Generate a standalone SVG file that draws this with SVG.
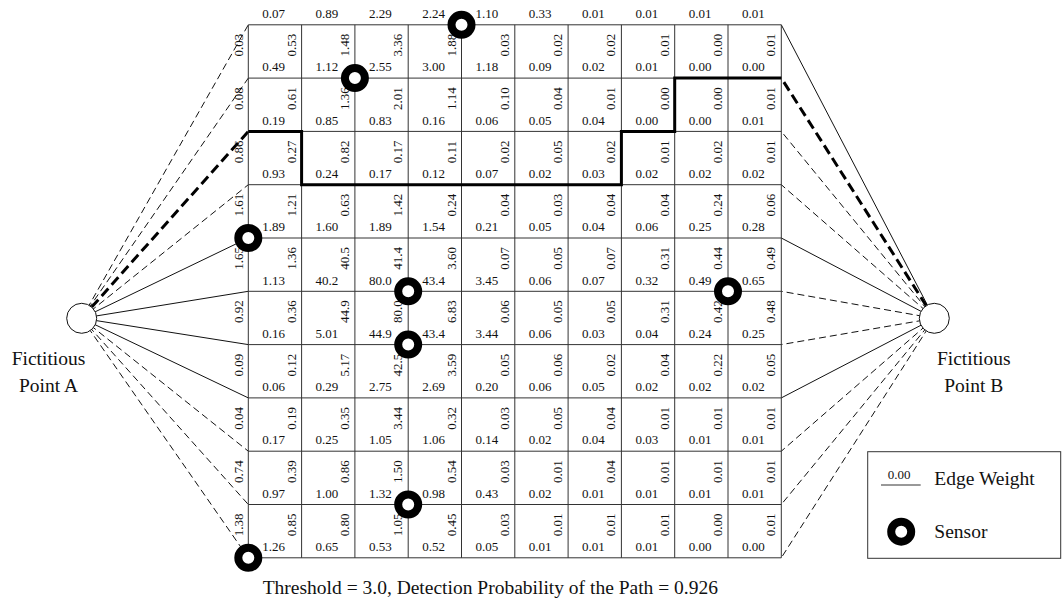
<svg xmlns="http://www.w3.org/2000/svg" width="1062" height="602" viewBox="0 0 1062 602">
<style>
text{font-family:"Liberation Serif","Times New Roman",serif;fill:#111}
.n{font-size:13px}
.lb{font-size:19.5px}
.grid{stroke:#333;stroke-width:1;fill:none}
.thin{stroke:#111;stroke-width:1;fill:none}
.dash{stroke:#111;stroke-width:1;fill:none;stroke-dasharray:7 4}
.thick{stroke:#000;stroke-width:3;fill:none;stroke-dasharray:10 5}
.path{stroke:#000;stroke-width:3;fill:none}
.sensor{fill:#fff;stroke:#000;stroke-width:8}
.pt{fill:#fff;stroke:#111;stroke-width:1}
</style>
<rect width="1062" height="602" fill="#fff"/>
<g id="connectors">
<line class="dash" x1="81.7" y1="318.3" x2="248.3" y2="24.8"/>
<line class="dash" x1="81.7" y1="318.3" x2="248.3" y2="78.1"/>
<line class="thick" x1="81.7" y1="318.3" x2="248.3" y2="131.4"/>
<line class="dash" x1="81.7" y1="318.3" x2="248.3" y2="184.7"/>
<line class="thin" x1="81.7" y1="318.3" x2="248.3" y2="238.0"/>
<line class="thin" x1="81.7" y1="318.3" x2="248.3" y2="291.3"/>
<line class="thin" x1="81.7" y1="318.3" x2="248.3" y2="344.6"/>
<line class="thin" x1="81.7" y1="318.3" x2="248.3" y2="397.9"/>
<line class="dash" x1="81.7" y1="318.3" x2="248.3" y2="451.2"/>
<line class="dash" x1="81.7" y1="318.3" x2="248.3" y2="504.5"/>
<line class="dash" x1="81.7" y1="318.3" x2="248.3" y2="557.8"/>
<line class="thin" x1="934.3" y1="318.3" x2="781.3" y2="24.8"/>
<line class="thick" x1="934.3" y1="318.3" x2="781.3" y2="78.1"/>
<line class="dash" x1="934.3" y1="318.3" x2="781.3" y2="131.4"/>
<line class="dash" x1="934.3" y1="318.3" x2="781.3" y2="184.7"/>
<line class="thin" x1="934.3" y1="318.3" x2="781.3" y2="238.0"/>
<line class="dash" x1="934.3" y1="318.3" x2="781.3" y2="291.3"/>
<line class="dash" x1="934.3" y1="318.3" x2="781.3" y2="344.6"/>
<line class="thin" x1="934.3" y1="318.3" x2="781.3" y2="397.9"/>
<line class="dash" x1="934.3" y1="318.3" x2="781.3" y2="451.2"/>
<line class="dash" x1="934.3" y1="318.3" x2="781.3" y2="504.5"/>
<line class="dash" x1="934.3" y1="318.3" x2="781.3" y2="557.8"/>
</g>
<g id="grid">
<path class="grid" d="M248.3,24.8V557.8M301.6,24.8V557.8M354.9,24.8V557.8M408.2,24.8V557.8M461.5,24.8V557.8M514.8,24.8V557.8M568.1,24.8V557.8M621.4,24.8V557.8M674.7,24.8V557.8M728,24.8V557.8M781.3,24.8V557.8M248.3,24.8H781.3M248.3,78.1H781.3M248.3,131.4H781.3M248.3,184.7H781.3M248.3,238H781.3M248.3,291.3H781.3M248.3,344.6H781.3M248.3,397.9H781.3M248.3,451.2H781.3M248.3,504.5H781.3M248.3,557.8H781.3"/>
<path id="best-path" class="path" d="M248.3,131.4H301.6V184.7H621.4V131.4H674.7V78.1H781.3"/>
</g>
<g id="weights" class="n">
<text x="262.3" y="18">0.07</text><text x="315.6" y="18">0.89</text><text x="368.9" y="18">2.29</text><text x="422.2" y="18">2.24</text><text x="475.5" y="18">1.10</text><text x="528.8" y="18">0.33</text><text x="582.1" y="18">0.01</text><text x="635.4" y="18">0.01</text><text x="688.7" y="18">0.01</text><text x="742" y="18">0.01</text>
<text transform="translate(243.3 56.6) rotate(-90)">0.03</text>
<text transform="translate(243.3 109.9) rotate(-90)">0.08</text>
<text transform="translate(243.3 163.2) rotate(-90)">0.86</text>
<text transform="translate(243.3 216.5) rotate(-90)">1.61</text>
<text transform="translate(243.3 269.8) rotate(-90)">1.65</text>
<text transform="translate(243.3 323.1) rotate(-90)">0.92</text>
<text transform="translate(243.3 376.4) rotate(-90)">0.09</text>
<text transform="translate(243.3 429.7) rotate(-90)">0.04</text>
<text transform="translate(243.3 483) rotate(-90)">0.74</text>
<text transform="translate(243.3 536.3) rotate(-90)">1.38</text>
<g id="row0">
<text x="262.3" y="71.3">0.49</text><text x="315.6" y="71.3">1.12</text><text x="368.9" y="71.3">2.55</text><text x="422.2" y="71.3">3.00</text><text x="475.5" y="71.3">1.18</text><text x="528.8" y="71.3">0.09</text><text x="582.1" y="71.3">0.02</text><text x="635.4" y="71.3">0.01</text><text x="688.7" y="71.3">0.00</text><text x="742" y="71.3">0.00</text>
<text transform="translate(295.6 56.6) rotate(-90)">0.53</text><text transform="translate(348.9 56.6) rotate(-90)">1.48</text><text transform="translate(402.2 56.6) rotate(-90)">3.36</text><text transform="translate(455.5 56.6) rotate(-90)">1.88</text><text transform="translate(508.8 56.6) rotate(-90)">0.03</text><text transform="translate(562.1 56.6) rotate(-90)">0.02</text><text transform="translate(615.4 56.6) rotate(-90)">0.02</text><text transform="translate(668.7 56.6) rotate(-90)">0.01</text><text transform="translate(722 56.6) rotate(-90)">0.00</text><text transform="translate(775.3 56.6) rotate(-90)">0.01</text>
</g>
<g id="row1">
<text x="262.3" y="124.6">0.19</text><text x="315.6" y="124.6">0.85</text><text x="368.9" y="124.6">0.83</text><text x="422.2" y="124.6">0.16</text><text x="475.5" y="124.6">0.06</text><text x="528.8" y="124.6">0.05</text><text x="582.1" y="124.6">0.04</text><text x="635.4" y="124.6">0.00</text><text x="688.7" y="124.6">0.00</text><text x="742" y="124.6">0.01</text>
<text transform="translate(295.6 109.9) rotate(-90)">0.61</text><text transform="translate(348.9 109.9) rotate(-90)">1.36</text><text transform="translate(402.2 109.9) rotate(-90)">2.01</text><text transform="translate(455.5 109.9) rotate(-90)">1.14</text><text transform="translate(508.8 109.9) rotate(-90)">0.10</text><text transform="translate(562.1 109.9) rotate(-90)">0.04</text><text transform="translate(615.4 109.9) rotate(-90)">0.01</text><text transform="translate(668.7 109.9) rotate(-90)">0.00</text><text transform="translate(722 109.9) rotate(-90)">0.00</text><text transform="translate(775.3 109.9) rotate(-90)">0.01</text>
</g>
<g id="row2">
<text x="262.3" y="177.9">0.93</text><text x="315.6" y="177.9">0.24</text><text x="368.9" y="177.9">0.17</text><text x="422.2" y="177.9">0.12</text><text x="475.5" y="177.9">0.07</text><text x="528.8" y="177.9">0.02</text><text x="582.1" y="177.9">0.03</text><text x="635.4" y="177.9">0.02</text><text x="688.7" y="177.9">0.02</text><text x="742" y="177.9">0.02</text>
<text transform="translate(295.6 163.2) rotate(-90)">0.27</text><text transform="translate(348.9 163.2) rotate(-90)">0.82</text><text transform="translate(402.2 163.2) rotate(-90)">0.17</text><text transform="translate(455.5 163.2) rotate(-90)">0.11</text><text transform="translate(508.8 163.2) rotate(-90)">0.02</text><text transform="translate(562.1 163.2) rotate(-90)">0.05</text><text transform="translate(615.4 163.2) rotate(-90)">0.02</text><text transform="translate(668.7 163.2) rotate(-90)">0.01</text><text transform="translate(722 163.2) rotate(-90)">0.02</text><text transform="translate(775.3 163.2) rotate(-90)">0.01</text>
</g>
<g id="row3">
<text x="262.3" y="231.2">1.89</text><text x="315.6" y="231.2">1.60</text><text x="368.9" y="231.2">1.89</text><text x="422.2" y="231.2">1.54</text><text x="475.5" y="231.2">0.21</text><text x="528.8" y="231.2">0.05</text><text x="582.1" y="231.2">0.04</text><text x="635.4" y="231.2">0.06</text><text x="688.7" y="231.2">0.25</text><text x="742" y="231.2">0.28</text>
<text transform="translate(295.6 216.5) rotate(-90)">1.21</text><text transform="translate(348.9 216.5) rotate(-90)">0.63</text><text transform="translate(402.2 216.5) rotate(-90)">1.42</text><text transform="translate(455.5 216.5) rotate(-90)">0.24</text><text transform="translate(508.8 216.5) rotate(-90)">0.04</text><text transform="translate(562.1 216.5) rotate(-90)">0.03</text><text transform="translate(615.4 216.5) rotate(-90)">0.04</text><text transform="translate(668.7 216.5) rotate(-90)">0.04</text><text transform="translate(722 216.5) rotate(-90)">0.24</text><text transform="translate(775.3 216.5) rotate(-90)">0.06</text>
</g>
<g id="row4">
<text x="262.3" y="284.5">1.13</text><text x="315.6" y="284.5">40.2</text><text x="368.9" y="284.5">80.0</text><text x="422.2" y="284.5">43.4</text><text x="475.5" y="284.5">3.45</text><text x="528.8" y="284.5">0.06</text><text x="582.1" y="284.5">0.07</text><text x="635.4" y="284.5">0.32</text><text x="688.7" y="284.5">0.49</text><text x="742" y="284.5">0.65</text>
<text transform="translate(295.6 269.8) rotate(-90)">1.36</text><text transform="translate(348.9 269.8) rotate(-90)">40.5</text><text transform="translate(402.2 269.8) rotate(-90)">41.4</text><text transform="translate(455.5 269.8) rotate(-90)">3.60</text><text transform="translate(508.8 269.8) rotate(-90)">0.07</text><text transform="translate(562.1 269.8) rotate(-90)">0.05</text><text transform="translate(615.4 269.8) rotate(-90)">0.07</text><text transform="translate(668.7 269.8) rotate(-90)">0.31</text><text transform="translate(722 269.8) rotate(-90)">0.44</text><text transform="translate(775.3 269.8) rotate(-90)">0.49</text>
</g>
<g id="row5">
<text x="262.3" y="337.8">0.16</text><text x="315.6" y="337.8">5.01</text><text x="368.9" y="337.8">44.9</text><text x="422.2" y="337.8">43.4</text><text x="475.5" y="337.8">3.44</text><text x="528.8" y="337.8">0.06</text><text x="582.1" y="337.8">0.03</text><text x="635.4" y="337.8">0.04</text><text x="688.7" y="337.8">0.24</text><text x="742" y="337.8">0.25</text>
<text transform="translate(295.6 323.1) rotate(-90)">0.36</text><text transform="translate(348.9 323.1) rotate(-90)">44.9</text><text transform="translate(402.2 323.1) rotate(-90)">80.0</text><text transform="translate(455.5 323.1) rotate(-90)">6.83</text><text transform="translate(508.8 323.1) rotate(-90)">0.06</text><text transform="translate(562.1 323.1) rotate(-90)">0.05</text><text transform="translate(615.4 323.1) rotate(-90)">0.05</text><text transform="translate(668.7 323.1) rotate(-90)">0.31</text><text transform="translate(722 323.1) rotate(-90)">0.42</text><text transform="translate(775.3 323.1) rotate(-90)">0.48</text>
</g>
<g id="row6">
<text x="262.3" y="391.1">0.06</text><text x="315.6" y="391.1">0.29</text><text x="368.9" y="391.1">2.75</text><text x="422.2" y="391.1">2.69</text><text x="475.5" y="391.1">0.20</text><text x="528.8" y="391.1">0.06</text><text x="582.1" y="391.1">0.05</text><text x="635.4" y="391.1">0.02</text><text x="688.7" y="391.1">0.02</text><text x="742" y="391.1">0.02</text>
<text transform="translate(295.6 376.4) rotate(-90)">0.12</text><text transform="translate(348.9 376.4) rotate(-90)">5.17</text><text transform="translate(402.2 376.4) rotate(-90)">42.5</text><text transform="translate(455.5 376.4) rotate(-90)">3.59</text><text transform="translate(508.8 376.4) rotate(-90)">0.05</text><text transform="translate(562.1 376.4) rotate(-90)">0.06</text><text transform="translate(615.4 376.4) rotate(-90)">0.02</text><text transform="translate(668.7 376.4) rotate(-90)">0.04</text><text transform="translate(722 376.4) rotate(-90)">0.22</text><text transform="translate(775.3 376.4) rotate(-90)">0.05</text>
</g>
<g id="row7">
<text x="262.3" y="444.4">0.17</text><text x="315.6" y="444.4">0.25</text><text x="368.9" y="444.4">1.05</text><text x="422.2" y="444.4">1.06</text><text x="475.5" y="444.4">0.14</text><text x="528.8" y="444.4">0.02</text><text x="582.1" y="444.4">0.04</text><text x="635.4" y="444.4">0.03</text><text x="688.7" y="444.4">0.01</text><text x="742" y="444.4">0.01</text>
<text transform="translate(295.6 429.7) rotate(-90)">0.19</text><text transform="translate(348.9 429.7) rotate(-90)">0.35</text><text transform="translate(402.2 429.7) rotate(-90)">3.44</text><text transform="translate(455.5 429.7) rotate(-90)">0.32</text><text transform="translate(508.8 429.7) rotate(-90)">0.03</text><text transform="translate(562.1 429.7) rotate(-90)">0.05</text><text transform="translate(615.4 429.7) rotate(-90)">0.04</text><text transform="translate(668.7 429.7) rotate(-90)">0.01</text><text transform="translate(722 429.7) rotate(-90)">0.01</text><text transform="translate(775.3 429.7) rotate(-90)">0.01</text>
</g>
<g id="row8">
<text x="262.3" y="497.7">0.97</text><text x="315.6" y="497.7">1.00</text><text x="368.9" y="497.7">1.32</text><text x="422.2" y="497.7">0.98</text><text x="475.5" y="497.7">0.43</text><text x="528.8" y="497.7">0.02</text><text x="582.1" y="497.7">0.01</text><text x="635.4" y="497.7">0.01</text><text x="688.7" y="497.7">0.01</text><text x="742" y="497.7">0.01</text>
<text transform="translate(295.6 483) rotate(-90)">0.39</text><text transform="translate(348.9 483) rotate(-90)">0.86</text><text transform="translate(402.2 483) rotate(-90)">1.50</text><text transform="translate(455.5 483) rotate(-90)">0.54</text><text transform="translate(508.8 483) rotate(-90)">0.03</text><text transform="translate(562.1 483) rotate(-90)">0.01</text><text transform="translate(615.4 483) rotate(-90)">0.04</text><text transform="translate(668.7 483) rotate(-90)">0.01</text><text transform="translate(722 483) rotate(-90)">0.01</text><text transform="translate(775.3 483) rotate(-90)">0.01</text>
</g>
<g id="row9">
<text x="262.3" y="551">1.26</text><text x="315.6" y="551">0.65</text><text x="368.9" y="551">0.53</text><text x="422.2" y="551">0.52</text><text x="475.5" y="551">0.05</text><text x="528.8" y="551">0.01</text><text x="582.1" y="551">0.01</text><text x="635.4" y="551">0.01</text><text x="688.7" y="551">0.00</text><text x="742" y="551">0.00</text>
<text transform="translate(295.6 536.3) rotate(-90)">0.85</text><text transform="translate(348.9 536.3) rotate(-90)">0.80</text><text transform="translate(402.2 536.3) rotate(-90)">1.05</text><text transform="translate(455.5 536.3) rotate(-90)">0.45</text><text transform="translate(508.8 536.3) rotate(-90)">0.03</text><text transform="translate(562.1 536.3) rotate(-90)">0.01</text><text transform="translate(615.4 536.3) rotate(-90)">0.01</text><text transform="translate(668.7 536.3) rotate(-90)">0.01</text><text transform="translate(722 536.3) rotate(-90)">0.00</text><text transform="translate(775.3 536.3) rotate(-90)">0.01</text>
</g>
</g>
<g id="sensors">
<circle id="sensor1" class="sensor" cx="461.5" cy="24.8" r="10"/>
<circle id="sensor2" class="sensor" cx="354.9" cy="78.1" r="10"/>
<circle id="sensor3" class="sensor" cx="248.3" cy="238" r="10"/>
<circle id="sensor4" class="sensor" cx="408.2" cy="291.3" r="10"/>
<circle id="sensor5" class="sensor" cx="408.2" cy="344.6" r="10"/>
<circle id="sensor6" class="sensor" cx="728" cy="291.3" r="10"/>
<circle id="sensor7" class="sensor" cx="408.2" cy="504.5" r="10"/>
<circle id="sensor8" class="sensor" cx="248.3" cy="557.8" r="10"/>
</g>
<g id="pointA">
<circle class="pt" cx="81.7" cy="318.3" r="15"/>
<text class="lb" x="48.5" y="365" text-anchor="middle">Fictitious</text>
<text class="lb" x="48.5" y="391.7" text-anchor="middle">Point A</text>
</g>
<g id="pointB">
<circle class="pt" cx="934.3" cy="318.3" r="15"/>
<text class="lb" x="973.8" y="365" text-anchor="middle">Fictitious</text>
<text class="lb" x="973.8" y="391.7" text-anchor="middle">Point B</text>
</g>
<g id="legend">
<rect x="867.7" y="451.7" width="193" height="106.6" fill="#fff" stroke="#333" stroke-width="1"/>
<text class="n" x="887.7" y="479.3">0.00</text>
<line x1="881" y1="485" x2="920.7" y2="485" stroke="#333" stroke-width="1"/>
<text class="lb" x="934.3" y="485">Edge Weight</text>
<circle class="sensor" cx="901.2" cy="531.7" r="10"/>
<text class="lb" x="934.3" y="538.3">Sensor</text>
</g>
<g id="caption">
<text class="lb" x="262.7" y="594">Threshold = 3.0, Detection Probability of the Path = 0.926</text>
</g>
</svg>
